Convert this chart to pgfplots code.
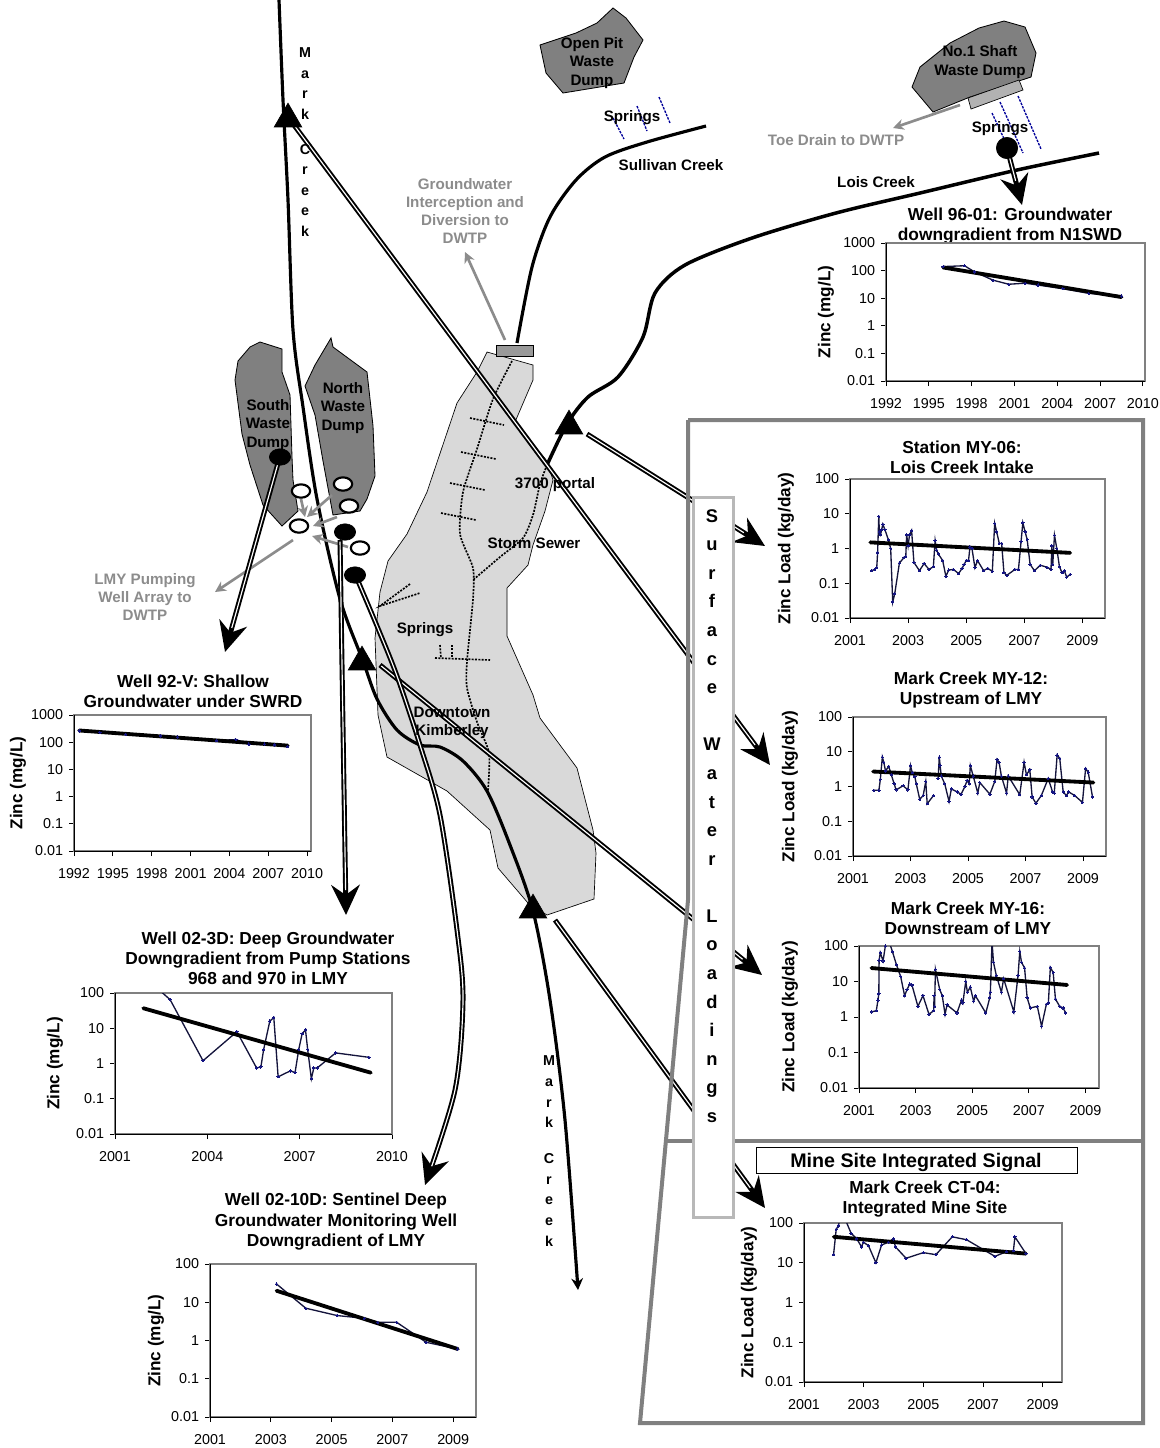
\documentclass[border=0pt]{standalone}
\usepackage{pgfplots}
\pgfplotsset{compat=1.18}
\usepackage{fontspec}
\setmainfont{Liberation Sans}
\usetikzlibrary{arrows.meta}
\definecolor{dump}{RGB}{128,128,128}
\definecolor{town}{RGB}{217,217,217}
\definecolor{frameg}{RGB}{128,128,128}
\definecolor{grayarrow}{RGB}{140,140,140}
\definecolor{dataline}{RGB}{20,20,60}
\definecolor{datamark}{RGB}{20,20,130}
\newcommand{\zz}{\bfseries\fontsize{10.3}{11}\selectfont}
% 1 reference pixel = 0.6pt
\pgfplotsset{
 mini/.style n args={4}{scale only axis, at={(#1*0.6pt,-#4*0.6pt)}, anchor=south west,
   width={(#3-#1)*0.6pt}, height={(#4-#2)*0.6pt},
   axis line style={draw=frameg,line width=0.7pt},
   tick align=outside, tick style={black,line width=0.5pt},
   major tick length=3pt,
   minor tick length=0pt,
   clip=true,
   ticklabel style={font=\fontsize{8.6}{10}\selectfont},
   /pgf/number format/assume math mode=true,
   /pgf/number format/1000 sep={},
   xticklabel style={/pgf/number format/fixed,yshift=-4pt},
   axis lines=box,xtick pos=bottom,ytick pos=left,
   after end axis/.code={\draw[black,line width=0.5pt] (rel axis cs:0,1)--(rel axis cs:0,0)--(rel axis cs:1,0);},
 },
 ylx/.style={every axis y label/.style={at={(axis description cs:0,0.5)},rotate=90,anchor=center,yshift=#1*0.6pt}},
 data/.style={dataline,line width=0.8pt,mark=*,mark size=0.7pt,mark options={datamark,fill=datamark,line width=0pt}},
 trend/.style={black,line width=2.3pt,no marks,line cap=round},
 dbl/.style={black,line width=3pt,-{Stealth[length=18pt,width=17pt,inset=6pt]}},
 dbli/.style={white,line width=0.7pt,shorten >=15pt,shorten <=1pt},
 dots/.style={black,line width=1pt,dash pattern=on 1.2pt off 0.8pt},
 spr/.style={blue!60!black,line width=0.8pt,dash pattern=on 1.5pt off 0.7pt},
 garrow/.style={grayarrow,line width=1.6pt,-{Stealth[length=6.5pt,width=6.5pt]}},
}
\newcommand{\ttl}[3]{\node[font=\bfseries\fontsize{10.4}{12.2}\selectfont,align=center,anchor=south,black] at (axis cs:#1,#2) {#3};}
\newcommand{\lab}[3]{\node[font=\bfseries\fontsize{9.1}{10.9}\selectfont,align=center,black] at (axis cs:#1,#2) {#3};}
\newcommand{\glab}[3]{\node[font=\bfseries\fontsize{9.1}{10.7}\selectfont,align=center,grayarrow] at (axis cs:#1,#2) {#3};}
\begin{document}
\begin{tikzpicture}
\useasboundingbox (0,0) rectangle (695.4pt,-868.8pt);
\begin{axis}[scale only axis, at={(0,-868.8pt)}, anchor=south west, width=695.4pt, height=868.8pt,
  xmin=0,xmax=1159,ymin=0,ymax=1448,y dir=reverse, hide axis, clip=false]
% town
\addplot[draw=black,line width=0.4pt,fill=town] coordinates {(487,352)(533,365)(533,380)(515,422)(547,461)(553,480)(545,511)(533,545)(528,565)(507,588)(507,636)(533,695)(540,718)(577,768)(593,830)(596,853)(594,899)(547,915)(528,903)(498,868)(490,830)(447,791)(387,757)(378,715)(375,638)(380,592)(388,561)(407,534)(427,492)(457,403)(477,372)} -- cycle;
% dumps
\addplot[draw=black,line width=0.5pt,fill=dump] coordinates {(260,342)(282,349)(282,372)(290,395)(292,457)(293,480)(298,511)(282,526)(263,505)(250,465)(242,434)(235,380)(238,361)(250,347)} -- cycle;
\addplot[draw=black,line width=0.5pt,fill=dump] coordinates {(331,338)(333,347)(367,372)(373,426)(375,476)(367,499)(360,511)(333,515)(323,461)(315,415)(305,386)(315,365)} -- cycle;
\addplot[draw=black,line width=0.5pt,fill=dump] coordinates {(613,8)(626,18)(643,40)(634,57)(624,83)(563,93)(546,73)(540,45)(576,33)(597,23)} -- cycle;
\addplot[draw=black,line width=0.5pt,fill=dump] coordinates {(1004,21)(1025,27)(1036,53)(1031,77)(970,97)(933,112)(912,87)(920,67)(950,43)(979,28)} -- cycle;
\addplot[draw=black,line width=0.4pt,fill=black!30] coordinates {(968,98)(1019,80)(1023,90)(971,109)} -- cycle;
\addplot[draw=black,line width=0.4pt,fill=black!40] coordinates {(496,345)(533,345)(533,356)(496,356)} -- cycle;
% creeks
\addplot[black,line width=1.9pt,smooth,tension=0.5,-{Stealth[length=7pt,width=7pt]}] coordinates {(279,0)(283,100)(288,200)(293,330)(303,407)(317,499)(340,599)(363,661)(377,699)(397,730)(420,745)(440,747)(463,761)(487,791)(510,845)(533,911)(550,1000)(565,1120)(578,1290)};
\addplot[black,line width=2.1pt,smooth,tension=0.5] coordinates {(1099,153)(1017,170)(920,193)(836,213)(752,238)(685,265)(655,293)(643,337)(618,377)(588,397)(567,424)(547,465)};
\addplot[black,line width=1.9pt,smooth,tension=0.5] coordinates {(706,126)(647,142)(605,157)(576,180)(550,217)(532,267)(517,343)};
% sewers
\addplot[dots,smooth,tension=0.4] coordinates {(512,361)(493,399)(477,449)(463,492)(460,534)(473,568)(473,599)(467,661)(467,688)(477,722)(489,753)(488,791)};
\addplot[dots,smooth,tension=0.4] coordinates {(547,465)(540,484)(533,515)(523,538)(500,557)(473,580)};
\addplot[dots] coordinates {(470,418)(504,425)};
\addplot[dots] coordinates {(461,452)(496,459)};
\addplot[dots] coordinates {(450,483)(485,490)};
\addplot[dots] coordinates {(441,513)(476,520)};
\addplot[dots] coordinates {(435,658)(490,660)};
\addplot[dots] coordinates {(440,645)(441,658)};
\addplot[dots] coordinates {(452,645)(452,658)};
\addplot[dots] coordinates {(410,584)(380,606)(420,593)};
% springs
\addplot[spr] coordinates {(613,118)(624,139)};
\addplot[spr] coordinates {(637,106)(647,131)};
\addplot[spr] coordinates {(659,97)(670,123)};
\addplot[spr] coordinates {(992,113)(1006,143)};
\addplot[spr] coordinates {(1000,102)(1023,153)};
\addplot[spr] coordinates {(1018,96)(1041,149)};
% grey arrows
\addplot[garrow] coordinates {(960,105)(893,128)};
\addplot[garrow] coordinates {(505,340)(465,252)};
\addplot[garrow] coordinates {(293,540)(215,592)};
\addplot[garrow] coordinates {(332,495)(307,517)};
\addplot[garrow] coordinates {(337,517)(313,526)};
\addplot[garrow] coordinates {(348,547)(312,536)};
\addplot[garrow] coordinates {(301,499)(305,517)};
% double arrows
\addplot[dbl] coordinates {(288,117)(770,765)};
\addplot[dbli] coordinates {(288,117)(770,765)};
\addplot[dbl] coordinates {(587,434)(765,546)};
\addplot[dbli] coordinates {(587,434)(765,546)};
\addplot[dbl] coordinates {(380,665)(762,975)};
\addplot[dbli] coordinates {(380,665)(762,975)};
\addplot[dbl] coordinates {(555,920)(765,1208)};
\addplot[dbli] coordinates {(555,920)(765,1208)};
\addplot[dbl] coordinates {(280,456)(225,652)};
\addplot[dbli] coordinates {(280,456)(225,652)};
\addplot[dbl] coordinates {(340,540)(346,915)};
\addplot[dbli] coordinates {(340,540)(346,915)};
\addplot[dbl] coordinates {(1007,148)(1022,205)};
\addplot[dbli] coordinates {(1007,148)(1022,205)};
\addplot[dbl,smooth,tension=0.5] coordinates {(355,574)(377,626)(397,676)(420,745)(440,815)(457,930)(463,1000)(455,1090)(425,1185)};
\addplot[dbli,smooth,tension=0.5] coordinates {(355,574)(377,626)(397,676)(420,745)(440,815)(457,930)(463,1000)(455,1090)(425,1185)};
% markers
\addplot[only marks,mark=triangle*,mark size=9.5pt,black] coordinates {(288,119)(569,426)(362,662)(533,910)};
\addplot[only marks,mark=*,mark size=5.8pt,black,mark options={xscale=1.1,yscale=0.85}] coordinates {(280,457)(345,532)(355,575)};
\addplot[only marks,mark=*,mark size=6.4pt,black] coordinates {(1007,148)};
\addplot[only marks,mark=*,mark size=5pt,mark options={xscale=1.1,yscale=0.8,draw=black,line width=1.3pt,fill=white}] coordinates {(301,491)(299,526)(343,484)(349,506)(360,548)};
% frame
\addplot[frameg,line width=2.4pt] coordinates {(688,420)(1143,420)(1143,1423)(640,1423)(688,900)(688,420)};
\addplot[frameg,line width=2.4pt] coordinates {(667,1141)(1143,1141)};
% box
\addplot[draw=black!28,line width=1.8pt,fill=white] coordinates {(693,497)(733,497)(733,1217)(693,1217)} -- cycle;
\node[font=\bfseries\fontsize{11}{17.15}\selectfont,align=center] at (axis cs:712,816) {S\\u\\r\\f\\a\\c\\e\\[17.15pt]W\\a\\t\\e\\r\\[17.15pt]L\\o\\a\\d\\i\\n\\g\\s};
\addplot[draw=black,line width=0.6pt,fill=white] coordinates {(756,1147)(1077,1147)(1077,1173)(756,1173)} -- cycle;
\node[font=\bfseries\fontsize{11.8}{13}\selectfont] at (axis cs:916,1162) {Mine Site Integrated Signal};
% map labels
\node[font=\bfseries\fontsize{8.6}{12.25}\selectfont,align=center] at (axis cs:305,142) {M\\a\\r\\k\\[9pt]C\\r\\e\\e\\k};
\node[font=\bfseries\fontsize{8.6}{12.4}\selectfont,align=center] at (axis cs:549,1151) {M\\a\\r\\k\\[9pt]C\\r\\e\\e\\k};
\lab{592}{63}{Open Pit\\Waste\\Dump}
\lab{980}{62}{No.1 Shaft\\Waste Dump}
\lab{632}{118}{Springs}
\lab{1000}{129}{Springs}
\lab{671}{165}{Sullivan Creek}
\lab{876}{182}{Lois Creek}
\glab{836}{140}{Toe Drain to DWTP}
\glab{465}{211}{Groundwater\\Interception and\\Diversion to\\DWTP}
\glab{145}{597}{LMY Pumping\\Well Array to\\DWTP}
\lab{268}{425}{South\\Waste\\Dump}
\lab{343}{408}{North\\Waste\\Dump}
\lab{555}{485}{3700 portal}
\lab{534}{543}{Storm Sewer}
\lab{425}{630}{Springs}
\lab{452}{723}{Downtown\\Kimberley}
% titles
\ttl{1010}{250}{Well 96-01: Groundwater\\downgradient from N1SWD}
\ttl{193}{714}{Well 92-V: Shallow\\Groundwater under SWRD}
\ttl{268}{991}{Well 02-3D: Deep Groundwater\\Downgradient from Pump Stations\\968 and 970  in LMY}
\ttl{336}{1256}{Well 02-10D: Sentinel Deep\\Groundwater Monitoring Well\\Downgradient of LMY}
\ttl{962}{480}{Station MY-06:\\Lois Creek Intake}
\ttl{971}{714}{Mark Creek MY-12:\\Upstream of LMY}
\ttl{968}{941}{Mark Creek MY-16:\\Downstream of LMY}
\ttl{925}{1223}{Mark Creek CT-04:\\Integrated Mine Site}
\end{axis}

% Well 96-01
\begin{semilogyaxis}[mini={886}{243}{1145}{381},ylx=60,xmin=1992,xmax=2010.15,ymin=0.01,ymax=1000,xtick={1992,1995,1998,2001,2004,2007,2010},ytick={0.01,0.1,1,10,100,1000},yticklabels={0.01,0.1,1,10,100,1000},ylabel={\zz Zinc (mg/L)}]
\addplot[data] coordinates {(1996,140)(1997.5,150)(1998.2,90)(1999.5,45)(2000.6,32)(2001.75,35)(2002.65,30)(2004.4,22)(2006.2,15)(2008.5,12)};
\addplot[trend] coordinates {(1996,130)(2008.5,11)};
\end{semilogyaxis}
% Well 92-V
\begin{semilogyaxis}[mini={74}{715}{311}{851},ylx=56,xmin=1992,xmax=2010.3,ymin=0.01,ymax=1000,xtick={1992,1995,1998,2001,2004,2007,2010},ytick={0.01,0.1,1,10,100,1000},yticklabels={0.01,0.1,1,10,100,1000},ylabel={\zz Zinc (mg/L)}]
\addplot[data] coordinates {(1992.4,260)(1994,230)(1996,195)(1998.7,170)(2000,155)(2003,115)(2004.5,125)(2005.5,85)(2006.7,85)(2007.5,80)(2008.5,68)};
\addplot[trend] coordinates {(1992.4,270)(2008.5,75)};
\end{semilogyaxis}
% Well 02-3D
\begin{semilogyaxis}[mini={115}{993}{392}{1134},ylx=60,xmin=2001,xmax=2010,ymin=0.01,ymax=100,xtick={2001,2004,2007,2010},ytick={0.01,0.1,1,10,100},yticklabels={0.01,0.1,1,10,100},ylabel={\zz Zinc (mg/L)}]
\addplot[data] coordinates {(2002.4,130)(2002.79,65)(2003.86,1.2)(2004.96,8)(2005.6,0.75)(2005.74,0.8)(2005.83,2.5)(2006.03,16)(2006.16,20)(2006.3,0.42)(2006.7,0.62)(2006.85,0.55)(2006.97,2.5)(2007.08,7)(2007.19,9)(2007.26,2.5)(2007.38,0.37)(2007.46,0.75)(2007.57,0.75)(2008.17,2)(2009.25,1.5)};
\addplot[trend] coordinates {(2001.92,37)(2009.31,0.55)};
\end{semilogyaxis}
% Well 02-10D
\begin{semilogyaxis}[mini={210}{1264}{476}{1417},ylx=54,xmin=2001,xmax=2009.75,ymin=0.01,ymax=100,xtick={2001,2003,2005,2007,2009},ytick={0.01,0.1,1,10,100},yticklabels={0.01,0.1,1,10,100},ylabel={\zz Zinc (mg/L)}]
\addplot[data] coordinates {(2003.19,30)(2004.15,7)(2005.18,4.5)(2006.08,3.8)(2006.52,3)(2007.14,3)(2008.11,0.9)(2009.15,0.6)};
\addplot[trend] coordinates {(2003.19,20)(2009.15,0.6)};
\end{semilogyaxis}
% MY-06
\begin{semilogyaxis}[mini={850}{479}{1105}{618},ylx=64,xmin=2001,xmax=2009.78,ymin=0.01,ymax=100,xtick={2001,2003,2005,2007,2009},ytick={0.01,0.1,1,10,100},yticklabels={0.01,0.1,1,10,100},ylabel={\zz Zinc Load (kg/day)}]
\addplot[data] coordinates {(2001.75,0.23)(2001.85,0.25)(2001.92,0.28)(2001.95,0.75)(2001.99,8.5)(2002.01,3)(2002.05,2.5)(2002.09,3.5)(2002.13,5)(2002.2,3.5)(2002.32,1.8)(2002.4,1)(2002.47,0.029)(2002.54,0.05)(2002.7,0.38)(2002.86,0.55)(2002.92,0.6)(2002.95,2.5)(2003,1.2)(2003.05,2.5)(2003.12,3.3)(2003.2,0.4)(2003.39,0.23)(2003.55,0.37)(2003.72,0.25)(2003.87,0.3)(2003.93,1.7)(2003.98,0.9)(2004.04,0.7)(2004.19,0.45)(2004.3,0.16)(2004.4,0.24)(2004.56,0.25)(2004.74,0.19)(2004.86,0.27)(2004.93,0.35)(2005,0.45)(2005.08,0.45)(2005.13,1.1)(2005.2,1)(2005.3,0.28)(2005.39,0.45)(2005.6,0.23)(2005.74,0.27)(2005.9,0.22)(2005.98,5.3)(2006.05,3)(2006.14,1.4)(2006.22,1.4)(2006.3,0.2)(2006.4,0.17)(2006.68,0.25)(2006.8,0.25)(2006.89,1.6)(2006.95,5.5)(2007.03,3)(2007.1,1.8)(2007.2,0.35)(2007.35,0.23)(2007.55,0.33)(2007.78,0.29)(2007.92,0.25)(2007.95,1.2)(2007.98,0.35)(2008.04,2.4)(2008.12,1)(2008.21,0.3)(2008.3,0.2)(2008.38,0.23)(2008.46,0.15)(2008.58,0.18)};
\addplot[trend] coordinates {(2001.7,1.5)(2008.58,0.75)};
\end{semilogyaxis}
% MY-12
\begin{semilogyaxis}[mini={853}{717}{1106}{856},ylx=63,xmin=2001,xmax=2009.8,ymin=0.01,ymax=100,xtick={2001,2003,2005,2007,2009},ytick={0.01,0.1,1,10,100},yticklabels={0.01,0.1,1,10,100},ylabel={\zz Zinc Load (kg/day)}]
\addplot[data] coordinates {(2001.72,0.78)(2001.9,0.78)(2001.95,1.6)(2002.02,7)(2002.07,5)(2002.13,2.8)(2002.24,3.8)(2002.33,2.2)(2002.43,1.2)(2002.5,0.8)(2002.74,1.05)(2002.91,0.8)(2003,4)(2003.06,2.5)(2003.15,1.9)(2003.2,1.2)(2003.32,0.43)(2003.44,0.55)(2003.53,1.4)(2003.58,0.32)(2003.8,0.55)};
\addplot[data] coordinates {(2003.96,1.7)(2004,7)(2004.03,4)(2004.07,2)(2004.19,1.2)(2004.34,0.37)(2004.42,0.85)(2004.62,0.7)(2004.76,0.6)(2004.89,1)(2004.97,1.5)(2005.04,1.2)(2005.08,4)(2005.18,2)(2005.34,0.65)(2005.41,1.3)(2005.76,0.6)(2005.93,1.4)(2006.01,6)(2006.08,5)(2006.16,2)(2006.34,0.65)(2006.4,2)(2006.8,0.58)(2006.95,5)(2007.03,2.2)(2007.15,3)(2007.23,0.5)(2007.36,0.33)(2007.55,0.55)(2007.79,1.7)(2007.94,0.7)(2008,0.65)(2008.1,8)(2008.19,6.5)(2008.31,0.7)(2008.42,0.55)(2008.5,0.7)(2008.71,0.55)(2008.98,0.35)(2009.09,3.3)(2009.18,2.6)(2009.33,0.5)};
\addplot[trend] coordinates {(2001.7,2.7)(2009.36,1.3)};
\end{semilogyaxis}
% MY-16
\begin{semilogyaxis}[mini={859}{946}{1099}{1088},ylx=69,xmin=2001,xmax=2009.48,ymin=0.01,ymax=100,xtick={2001,2003,2005,2007,2009},ytick={0.01,0.1,1,10,100},yticklabels={0.01,0.1,1,10,100},ylabel={\zz Zinc Load (kg/day)}]
\addplot[data] coordinates {(2001.44,1.4)(2001.61,1.5)(2001.67,3)(2001.7,4.5)(2001.71,40)(2001.75,65)(2001.85,38)(2001.93,100)(2002.08,120)(2002.18,70)(2002.32,30)(2002.47,14)(2002.61,4)(2002.7,6)(2002.79,8.5)(2002.87,8)(2003.08,2)(2003.26,4)(2003.47,1.2)(2003.64,1.5)(2003.65,4)(2003.67,2)(2003.7,22)(2003.85,6)(2003.94,4)(2004.04,1.2)(2004.11,2.2)(2004.46,1.3)(2004.62,3)(2004.67,2.5)(2004.77,10)(2004.83,5)(2004.93,7)(2005.05,2.8)(2005.11,4)(2005.48,1.3)(2005.62,3.5)(2005.64,5)(2005.7,130)(2005.75,35)(2005.85,15)(2006.03,5)(2006.11,12)(2006.47,1.4)(2006.62,15)(2006.68,70)(2006.74,35)(2006.85,24)(2006.94,3.5)(2007.05,1.8)(2007.3,2)(2007.45,0.55)(2007.62,2.3)(2007.69,2.5)(2007.76,25)(2007.86,18)(2007.94,3.2)(2008.09,2)(2008.21,1.8)(2008.3,1.3)};
\addplot[trend] coordinates {(2001.44,24)(2008.35,8)};
\end{semilogyaxis}
% CT-04
\begin{semilogyaxis}[mini={804}{1223}{1062}{1382},ylx=55,xmin=2001,xmax=2009.65,ymin=0.01,ymax=100,xtick={2001,2003,2005,2007,2009},ytick={0.01,0.1,1,10,100},yticklabels={0.01,0.1,1,10,100},ylabel={\zz Zinc Load (kg/day)}]
\addplot[data] coordinates {(2001.99,16)(2002.08,70)(2002.15,85)(2002.2,120)(2002.41,110)(2002.58,55)(2002.77,40)(2002.93,25)(2002.99,33)(2003.16,27)(2003.41,10)(2003.6,28)(2003.83,33)(2003.99,40)(2004.07,25)(2004.42,13)(2005,18)(2005.42,16)(2005.97,45)(2006.45,38)(2007.4,14.5)(2007.79,19)(2008.02,20)(2008.07,45)(2008.44,17)};
\addplot[trend] coordinates {(2002,45)(2008.44,17)};
\end{semilogyaxis}
\end{tikzpicture}
\end{document}
